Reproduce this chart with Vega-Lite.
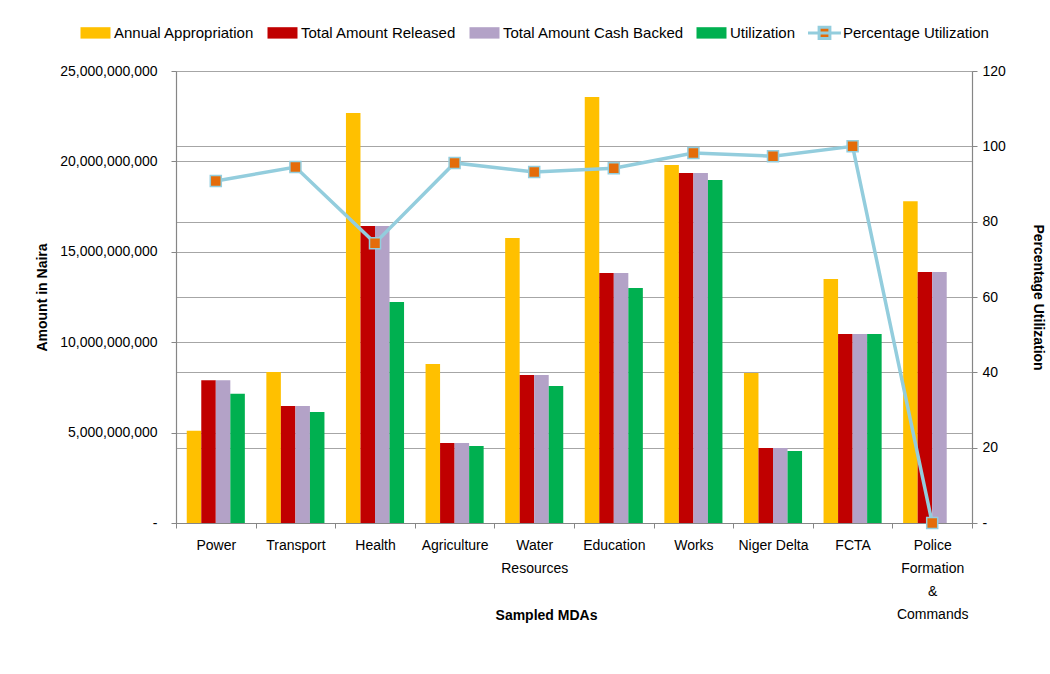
{
  "$schema": "https://vega.github.io/schema/vega-lite/v6.json",
  "width": 796,
  "height": 452,
  "autosize": {"type": "none"},
  "padding": {"left": 176, "top": 71, "right": 78, "bottom": 151},
  "background": "white",
  "config": {
    "view": {"stroke": null},
    "font": "Liberation Sans",
    "axis": {
      "labelFont": "Liberation Sans",
      "labelFontSize": 14,
      "labelColor": "#000000",
      "titleFont": "Liberation Sans",
      "titleFontSize": 14,
      "titleFontWeight": "bold",
      "titleColor": "#000000",
      "domainColor": "#868686",
      "tickColor": "#868686",
      "gridColor": "#A6A6A6",
      "gridWidth": 1.2,
      "tickSize": 5,
      "domainWidth": 1.2
    },
    "legend": {
      "labelFont": "Liberation Sans",
      "labelFontSize": 15,
      "labelColor": "#000000",
      "labelLimit": 0
    }
  },
  "datasets": {
    "bars": [
      {"mda": "Power", "series": "Annual Appropriation", "value": 5100000000},
      {"mda": "Power", "series": "Total Amount Released", "value": 7900000000},
      {"mda": "Power", "series": "Total Amount Cash Backed", "value": 7900000000},
      {"mda": "Power", "series": "Utilization", "value": 7150000000},
      {"mda": "Transport", "series": "Annual Appropriation", "value": 8350000000},
      {"mda": "Transport", "series": "Total Amount Released", "value": 6470000000},
      {"mda": "Transport", "series": "Total Amount Cash Backed", "value": 6470000000},
      {"mda": "Transport", "series": "Utilization", "value": 6140000000},
      {"mda": "Health", "series": "Annual Appropriation", "value": 22680000000},
      {"mda": "Health", "series": "Total Amount Released", "value": 16430000000},
      {"mda": "Health", "series": "Total Amount Cash Backed", "value": 16430000000},
      {"mda": "Health", "series": "Utilization", "value": 12220000000},
      {"mda": "Agriculture", "series": "Annual Appropriation", "value": 8790000000},
      {"mda": "Agriculture", "series": "Total Amount Released", "value": 4420000000},
      {"mda": "Agriculture", "series": "Total Amount Cash Backed", "value": 4420000000},
      {"mda": "Agriculture", "series": "Utilization", "value": 4260000000},
      {"mda": "Water Resources", "series": "Annual Appropriation", "value": 15760000000},
      {"mda": "Water Resources", "series": "Total Amount Released", "value": 8190000000},
      {"mda": "Water Resources", "series": "Total Amount Cash Backed", "value": 8190000000},
      {"mda": "Water Resources", "series": "Utilization", "value": 7580000000},
      {"mda": "Education", "series": "Annual Appropriation", "value": 23560000000},
      {"mda": "Education", "series": "Total Amount Released", "value": 13830000000},
      {"mda": "Education", "series": "Total Amount Cash Backed", "value": 13830000000},
      {"mda": "Education", "series": "Utilization", "value": 13000000000},
      {"mda": "Works", "series": "Annual Appropriation", "value": 19800000000},
      {"mda": "Works", "series": "Total Amount Released", "value": 19360000000},
      {"mda": "Works", "series": "Total Amount Cash Backed", "value": 19360000000},
      {"mda": "Works", "series": "Utilization", "value": 18970000000},
      {"mda": "Niger Delta", "series": "Annual Appropriation", "value": 8300000000},
      {"mda": "Niger Delta", "series": "Total Amount Released", "value": 4150000000},
      {"mda": "Niger Delta", "series": "Total Amount Cash Backed", "value": 4150000000},
      {"mda": "Niger Delta", "series": "Utilization", "value": 3980000000},
      {"mda": "FCTA", "series": "Annual Appropriation", "value": 13500000000},
      {"mda": "FCTA", "series": "Total Amount Released", "value": 10450000000},
      {"mda": "FCTA", "series": "Total Amount Cash Backed", "value": 10450000000},
      {"mda": "FCTA", "series": "Utilization", "value": 10450000000},
      {"mda": "Police Formation & Commands", "series": "Annual Appropriation", "value": 17800000000},
      {"mda": "Police Formation & Commands", "series": "Total Amount Released", "value": 13880000000},
      {"mda": "Police Formation & Commands", "series": "Total Amount Cash Backed", "value": 13880000000},
      {"mda": "Police Formation & Commands", "series": "Utilization", "value": 0}
    ],
    "pct": [
      {"mda": "Power", "pct": 90.8},
      {"mda": "Transport", "pct": 94.5},
      {"mda": "Health", "pct": 74.3},
      {"mda": "Agriculture", "pct": 95.6},
      {"mda": "Water Resources", "pct": 93.2},
      {"mda": "Education", "pct": 94.2},
      {"mda": "Works", "pct": 98.2},
      {"mda": "Niger Delta", "pct": 97.4},
      {"mda": "FCTA", "pct": 100},
      {"mda": "Police Formation & Commands", "pct": 0}
    ]
  },
  "encoding": {
    "x": {
      "field": "mda",
      "type": "nominal",
      "sort": ["Power", "Transport", "Health", "Agriculture", "Water Resources", "Education", "Works", "Niger Delta", "FCTA", "Police Formation & Commands"],
      "scale": {"paddingInner": 0, "paddingOuter": 0},
      "axis": {
        "title": "Sampled MDAs",
        "titleX": 370,
        "titleY": 85,
        "titleBaseline": "top",
        "labelAngle": 0,
        "tickBand": "extent",
        "labelPadding": 10,
        "labelBaseline": "top",
        "labelLineHeight": 23,
        "labelExpr": "datum.label == 'Water Resources' ? ['Water', 'Resources'] : datum.label == 'Police Formation & Commands' ? ['Police', 'Formation', '&', 'Commands'] : datum.label",
        "grid": false
      }
    }
  },
  "layer": [
    {
      "data": {"name": "bars"},
      "mark": {"type": "bar"},
      "encoding": {
        "xOffset": {
          "field": "series",
          "type": "nominal",
          "sort": ["Annual Appropriation", "Total Amount Released", "Total Amount Cash Backed", "Utilization"],
          "scale": {"paddingInner": 0, "paddingOuter": 0.74}
        },
        "y": {
          "field": "value",
          "type": "quantitative",
          "scale": {"domain": [0, 25000000000], "nice": false},
          "axis": {
            "title": "Amount in Naira",
            "orient": "left",
            "values": [0, 5000000000, 10000000000, 15000000000, 20000000000, 25000000000],
            "labelExpr": "datum.value === 0 ? '-' : format(datum.value, ',')",
            "labelPadding": 14,
            "titlePadding": 10,
            "grid": true
          }
        },
        "color": {
          "field": "series",
          "type": "nominal",
          "scale": {
            "domain": ["Annual Appropriation", "Total Amount Released", "Total Amount Cash Backed", "Utilization", "Percentage Utilization"],
            "range": ["#FFC000", "#C00000", "#B3A2C7", "#00B050", "#E46C0A"]
          },
          "legend": {
            "title": null,
            "orient": "none",
            "direction": "horizontal",
            "legendX": -97,
            "legendY": -55,
            "padding": 0,
            "columnPadding": 6,
            "labelOffset": 2,
            "symbolSize": 900,
            "encode": {
              "symbols": {
                "update": {
                  "shape": {"signal": "datum.value === 'Percentage Utilization' ? 'M-1.1,0H1.1M-0.36,-0.38H0.36V0.38H-0.36Z' : 'M-1,-0.38H1V0.38H-1Z'"},
                  "fill": {"signal": "datum.value === 'Percentage Utilization' ? '#E46C0A' : datum.value === 'Annual Appropriation' ? '#FFC000' : datum.value === 'Total Amount Released' ? '#C00000' : datum.value === 'Total Amount Cash Backed' ? '#B3A2C7' : '#00B050'"},
                  "stroke": {"signal": "datum.value === 'Percentage Utilization' ? '#93CDDD' : 'transparent'"},
                  "strokeWidth": {"value": 3},
                  "size": {"value": 900},
                  "opacity": {"value": 1},
                  "fillOpacity": {"value": 1}
                }
              }
            }
          }
        }
      }
    },
    {
      "data": {"name": "pct"},
      "encoding": {
        "y": {
          "field": "pct",
          "type": "quantitative",
          "scale": {"domain": [0, 120], "nice": false},
          "axis": {
            "title": "Percentage Utilization",
            "orient": "right",
            "values": [0, 20, 40, 60, 80, 100, 120],
            "labelExpr": "datum.value === 0 ? '-' : format(datum.value, 'd')",
            "labelPadding": 5,
            "titlePadding": 25,
            "grid": true
          }
        }
      },
      "layer": [
        {
          "mark": {"type": "line", "stroke": "#93CDDD", "strokeWidth": 3.5}
        },
        {
          "mark": {"type": "point", "shape": "square", "filled": true, "size": 121, "fill": "#E46C0A", "stroke": "#93CDDD", "strokeWidth": 1.5, "opacity": 1}
        }
      ]
    }
  ],
  "resolve": {"scale": {"y": "independent"}}
}
